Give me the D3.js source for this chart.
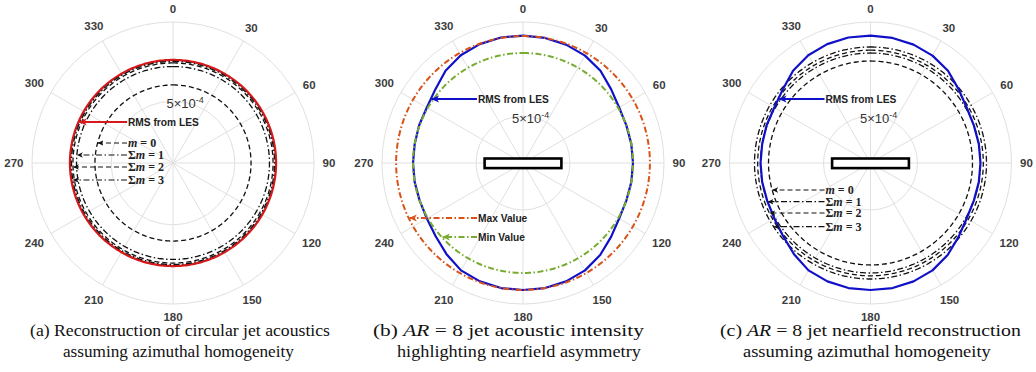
<!DOCTYPE html>
<html>
<head>
<meta charset="utf-8">
<script src="https://cdn.jsdelivr.net/npm/d3@7"></script>
<style>
  body { margin: 0; background: #fff; }
  svg { display: block; }
</style>
</head>
<body>
<svg id="fig" width="1036" height="372"></svg>
<script>
// ---------- data (amplitudes in units of 1e-4) ----------
const thetaTicks = [0, 30, 60, 90, 120, 150, 180, 210, 240, 270, 300, 330];
const ringTicks = [5];
const rLimCirc = 11.4;   // radial limit, panel (a)
const rLimRect = 15;     // radial limit, panels (b) and (c)

// (a) circular jet: azimuthally homogeneous, one amplitude per curve
const modeLabels = ["m = 0", "\u03A3m = 1", "\u03A3m = 2", "\u03A3m = 3"];
const modeStyles = ["dashed", "dashdot", "dashed", "dashdot"];
const circModeAmp = [6.31, 7.80, 8.09, 8.21];
const circLESAmp = 8.33;

// (b) AR = 8 jet, RMS from LES versus azimuth (deg)
const lesAngles = [0, 10, 20, 30, 40, 50, 60, 70, 80, 90, 100, 110,
                   120, 130, 140, 150, 160, 170, 180, 190, 200, 210, 220, 230,
                   240, 250, 260, 270, 280, 290, 300, 310, 320, 330, 340, 350];
const lesAmp = [13.56, 13.51, 13.40, 13.19, 12.82, 12.23, 11.81, 11.70, 11.70, 11.70, 11.70, 11.70,
                11.81, 12.23, 12.77, 13.19, 13.40, 13.51, 13.51, 13.51, 13.40, 13.19, 12.66, 12.13,
                11.81, 11.70, 11.70, 11.70, 11.70, 11.76, 11.81, 12.18, 12.82, 13.24, 13.46, 13.56];
const maxAmp = 13.5;
const minAmp = 11.7;

// (c) AR = 8 jet reconstruction assuming homogeneity
const recModeAmp = [10.85, 11.7, 12.0, 12.34];

const nozzleAspect = 8;

const captionsL1 = ["(a) Reconstruction of circular jet acoustics",
                    "(b) |AR| = 8 jet acoustic intensity",
                    "(c) |AR| = 8 jet nearfield reconstruction"];
const captionsL2 = ["assuming azimuthal homogeneity",
                    "highlighting nearfield asymmetry",
                    "assuming azimuthal homogeneity"];

// ---------- layout ----------
const svg = d3.select("#fig");
const centers = [[173, 163], [523, 163], [870.5, 163]];
const R_OUT = 141;
const deg = d => d * Math.PI / 180;
const dashes = { dashed: "5,3", dashdot: "6,2.5,1.5,2.5" };

const C = {
  red: "#d7191c", blue: "#1010c8", orange: "#d95319", green: "#77ac30",
  black: "#111", grid: "#e0e0e0", label: "#3c3c3c"
};

// arrowheads
const defs = svg.append("defs");
function marker(id, color, size) {
  defs.append("marker")
    .attr("id", id).attr("viewBox", "0 0 10 10")
    .attr("refX", 9).attr("refY", 5)
    .attr("markerWidth", size).attr("markerHeight", size)
    .attr("markerUnits", "userSpaceOnUse").attr("orient", "auto")
    .append("path").attr("d", "M0,0.5 L10,5 L0,9.5 L2.5,5 Z").attr("fill", color);
}
marker("ah-red", C.red, 8);
marker("ah-blue", C.blue, 8);
marker("ah-orange", C.orange, 8);
marker("ah-green", C.green, 8);
marker("ah-black", C.black, 6);

const sampleStep = d3.range(0, 360, 1);
function circlePts(a) { return sampleStep.map(t => [t, a]); }
function seriesPts(angles, amps) { return angles.map((t, i) => [t, amps[i]]); }

function makePanel(cx, cy, rLim) {
  const r = d3.scaleLinear().domain([0, rLim]).range([0, R_OUT]);
  const g = svg.append("g").attr("transform", `translate(${cx},${cy})`);
  const radial = d3.lineRadial().angle(d => deg(d[0])).radius(d => r(d[1]))
    .curve(d3.curveLinearClosed);
  const toXY = p => [r(p[1]) * Math.sin(deg(p[0])), -r(p[1]) * Math.cos(deg(p[0]))];

  // grid
  g.selectAll("circle.ring").data(ringTicks.concat([rLim])).join("circle")
    .attr("class", "ring").attr("r", d => r(d))
    .attr("fill", "none").attr("stroke", C.grid).attr("stroke-width", 1);
  g.selectAll("line.spoke").data(thetaTicks).join("line")
    .attr("class", "spoke")
    .attr("x1", 0).attr("y1", 0)
    .attr("x2", d => R_OUT * Math.sin(deg(d)))
    .attr("y2", d => -R_OUT * Math.cos(deg(d)))
    .attr("stroke", C.grid).attr("stroke-width", 1);
  g.selectAll("text.tt").data(thetaTicks).join("text")
    .attr("class", "tt")
    .attr("text-anchor", "middle")
    .attr("font-family", "Liberation Sans, Arial, sans-serif")
    .attr("font-weight", "bold").attr("font-size", 11.5)
    .attr("fill", C.label)
    .text(d => d)
    .each(function (d) {
      const w = this.getComputedTextLength(), h = 9;
      const s = Math.abs(Math.sin(deg(d))), c = Math.abs(Math.cos(deg(d)));
      const R = 149.5 + 0.5 * (w * s + h * c);
      d3.select(this)
        .attr("x", R * Math.sin(deg(d)))
        .attr("y", -R * Math.cos(deg(d)) + 4.2);
    });

  return {
    g,
    curve(pts, color, width, style) {
      g.append("path")
        .attr("d", radial(pts))
        .attr("fill", "none").attr("stroke", color).attr("stroke-width", width)
        .attr("stroke-dasharray", style ? dashes[style] : null)
        .attr("stroke-linejoin", "round");
    },
    // leftmost crossing of a closed curve with the horizontal line y
    leftHit(pts, y) {
      const xy = pts.map(toXY);
      let best = Infinity;
      for (let i = 0; i < xy.length; i++) {
        const p = xy[i], q = xy[(i + 1) % xy.length];
        if ((p[1] - y) * (q[1] - y) <= 0 && p[1] !== q[1]) {
          const x = p[0] + (q[0] - p[0]) * (y - p[1]) / (q[1] - p[1]);
          if (x < best) best = x;
        }
      }
      return best;
    },
    sciLabel(dx) {
      // tick label of the 5e-4 ring, set just inside it
      const y = -r(ringTicks[0]) + 7;
      const t = g.append("text").attr("x", dx).attr("y", y)
        .attr("font-family", "Liberation Sans, Arial, sans-serif")
        .attr("font-size", 13).attr("fill", "#333");
      t.append("tspan").text("5\u00D710");
      t.append("tspan").attr("dy", -5).attr("font-size", 9).text("-4");
    }
  };
}

function arrow(g, x1, x2, y, color, width, style, mk) {
  g.append("line")
    .attr("x1", x1).attr("x2", x2).attr("y1", y).attr("y2", y)
    .attr("stroke", color).attr("stroke-width", width)
    .attr("stroke-dasharray", style ? dashes[style] : null)
    .attr("marker-end", `url(#${mk})`);
}

function sansNote(g, x, y, txt) {
  g.append("text").attr("x", x).attr("y", y + 3.6)
    .attr("font-family", "Liberation Sans, Arial, sans-serif")
    .attr("font-weight", "bold").attr("font-size", 10.2)
    .attr("fill", "#222").text(txt);
}

function mathNote(g, x, y, txt) {
  const t = g.append("text").attr("x", x).attr("y", y + 3.8)
    .attr("font-family", "Liberation Serif, 'Times New Roman', serif")
    .attr("font-weight", "bold").attr("font-size", 12).attr("fill", "#222");
  const i = txt.indexOf("m");
  if (i > 0) t.append("tspan").text(txt.slice(0, i));
  t.append("tspan").attr("font-style", "italic").text("m");
  t.append("tspan").text(txt.slice(i + 1));
}

function nozzle(g) {
  const h = 9.6, w = h * nozzleAspect;
  g.append("rect").attr("x", -w / 2).attr("y", -h / 2 + 0.3)
    .attr("width", w).attr("height", h)
    .attr("fill", "#fff").attr("stroke", "#000").attr("stroke-width", 2.6);
}

const TX = -45, LX = -46;

// ---------- panel (a) ----------
{
  const P = makePanel(...centers[0], rLimCirc);
  P.curve(circlePts(circLESAmp), C.red, 2.3, null);
  circModeAmp.forEach((a, i) => P.curve(circlePts(a), C.black, 1.3, modeStyles[i]));
  P.sciLabel(-6.5);
  const yRms = -41;
  arrow(P.g, LX, P.leftHit(circlePts(circLESAmp), yRms) + 1, yRms, C.red, 2, null, "ah-red");
  sansNote(P.g, TX, yRms, "RMS from LES");
  const ys = [-20, -8, 4, 17];
  circModeAmp.forEach((a, i) => {
    arrow(P.g, LX, P.leftHit(circlePts(a), ys[i]) + 0.5, ys[i], C.black, 1.2, modeStyles[i], "ah-black");
    mathNote(P.g, TX, ys[i], modeLabels[i]);
  });
}

// ---------- panel (b) ----------
{
  const P = makePanel(...centers[1], rLimRect);
  const les = seriesPts(lesAngles, lesAmp);
  P.curve(les, C.blue, 2.2, null);
  P.curve(circlePts(maxAmp), C.orange, 2, "dashdot");
  P.curve(circlePts(minAmp), C.green, 2, "dashdot");
  nozzle(P.g);
  P.sciLabel(-11);
  arrow(P.g, LX, P.leftHit(les, -64) + 1, -64, C.blue, 2, null, "ah-blue");
  sansNote(P.g, TX, -64, "RMS from LES");
  arrow(P.g, LX, P.leftHit(circlePts(maxAmp), 55) + 1, 55, C.orange, 2, "dashdot", "ah-orange");
  sansNote(P.g, TX, 55, "Max Value");
  arrow(P.g, LX, P.leftHit(circlePts(minAmp), 74) + 1, 74, C.green, 2, "dashdot", "ah-green");
  sansNote(P.g, TX, 74, "Min Value");
}

// ---------- panel (c) ----------
{
  const P = makePanel(...centers[2], rLimRect);
  recModeAmp.forEach((a, i) => P.curve(circlePts(a), C.black, 1.3, modeStyles[i]));
  const les = seriesPts(lesAngles, lesAmp);
  P.curve(les, C.blue, 2.2, null);
  nozzle(P.g);
  P.sciLabel(-10.5);
  arrow(P.g, LX, P.leftHit(les, -64) + 1, -64, C.blue, 2, null, "ah-blue");
  sansNote(P.g, TX, -64, "RMS from LES");
  const ys = [27, 38.7, 50, 63.7];
  recModeAmp.forEach((a, i) => {
    arrow(P.g, LX, P.leftHit(circlePts(a), ys[i]) + 0.5, ys[i], C.black, 1.2, modeStyles[i], "ah-black");
    mathNote(P.g, TX, ys[i], modeLabels[i]);
  });
}

// ---------- captions ----------
const capL1 = [[30, 330], [373, 644], [720, 1021]];
const capL2 = [[63, 294], [397, 641], [743, 991]];
function caption(txt, x0, x1, y) {
  const t = svg.append("text").attr("x", 0).attr("y", 0)
    .attr("font-family", "Liberation Serif, 'Times New Roman', serif")
    .attr("font-size", 16).attr("fill", "#111");
  txt.split("|").forEach((part, i) => {
    t.append("tspan").attr("font-style", i % 2 ? "italic" : null).text(part);
  });
  const w = t.node().getComputedTextLength();
  t.attr("transform", `translate(${x0},${y}) scale(${(x1 - x0) / w},1)`);
}
captionsL1.forEach((s, i) => caption(s, capL1[i][0], capL1[i][1], 336));
captionsL2.forEach((s, i) => caption(s, capL2[i][0], capL2[i][1], 357));
</script>
</body>
</html>
